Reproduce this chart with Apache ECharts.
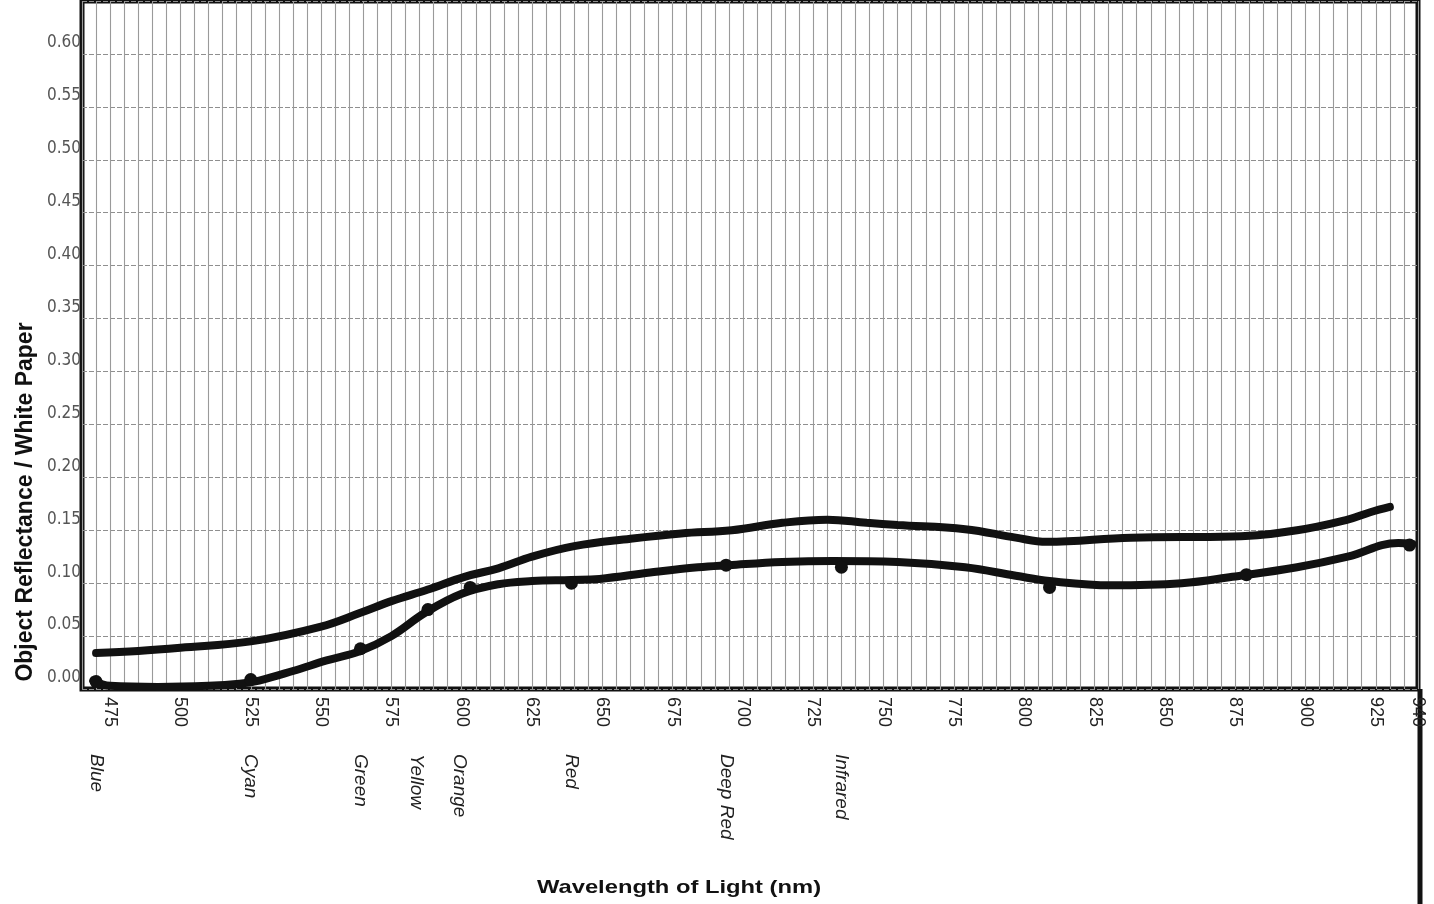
<!DOCTYPE html>
<html>
<head>
<meta charset="utf-8">
<script src="https://cdn.jsdelivr.net/npm/echarts@6/dist/echarts.min.js"></script>
<style>
html,body{margin:0;padding:0;background:#fff;}
#chart{width:1434px;height:904px;}
</style>
</head>
<body>
<div id="chart"></div>
<script>
// ---- data ----
const upperNm  = [470, 485, 500, 525, 550, 564, 575, 588, 601, 613, 625, 640, 660, 678, 696, 714, 730, 744, 755, 779, 797, 808, 838, 874, 897, 915, 923, 930];
const upperVal = [0.034, 0.036, 0.039, 0.045, 0.059, 0.072, 0.083, 0.094, 0.106, 0.114, 0.125, 0.135, 0.142, 0.147, 0.150, 0.157, 0.160, 0.157, 0.155, 0.151, 0.143, 0.139, 0.143, 0.144, 0.150, 0.160, 0.167, 0.172];

const lowerNm  = [469, 475, 492, 510, 521, 528, 540, 552, 564, 575, 587, 600, 613, 625, 639, 649, 667, 684, 695, 714, 732, 755, 779, 797, 809, 831, 856, 874, 897, 915, 933, 938];
const lowerVal = [0.008, 0.003, 0.002, 0.003, 0.005, 0.008, 0.017, 0.027, 0.036, 0.050, 0.072, 0.090, 0.099, 0.102, 0.103, 0.104, 0.110, 0.115, 0.117, 0.120, 0.121, 0.120, 0.115, 0.107, 0.102, 0.098, 0.100, 0.106, 0.115, 0.125, 0.138, 0.137];

const ledNm       = [470, 525, 564, 588, 603, 639, 694, 735, 809, 879, 937];
const ledLowerVal = [0.007, 0.009, 0.038, 0.075, 0.096, 0.100, 0.117, 0.115, 0.096, 0.108, 0.136];

const colorNames = ['Blue', 'Cyan', 'Green', 'Yellow', 'Orange', 'Red', 'Deep Red', 'Infrared'];
const colorNm    = [470, 525, 564, 584, 599, 639, 694, 735];

const xMajorTicks = [475, 500, 525, 550, 575, 600, 625, 650, 675, 700, 725, 750, 775, 800, 825, 850, 875, 900, 925, 940];
const yTickLabels = ['0.00', '0.05', '0.10', '0.15', '0.20', '0.25', '0.30', '0.35', '0.40', '0.45', '0.50', '0.55', '0.60'];

const xTitle = 'Wavelength of Light (nm)';
const yTitle = 'Object Reflectance / White Paper';

// ---- chart ----
const chart = echarts.init(document.getElementById('chart'), null, {renderer: 'canvas'});
const zip = (a, b) => a.map((v, i) => [v, b[i]]);

chart.setOption({
  backgroundColor: '#ffffff',
  animation: false,
  grid: {left: 82, right: 16, top: 1, bottom: 215, show: true, borderColor: '#111', borderWidth: 5, backgroundColor: 'transparent'},
  xAxis: {
    type: 'value', min: 465, max: 940, interval: 5,
    axisLine: {show: false}, axisTick: {show: false},
    splitLine: {show: true, lineStyle: {color: '#9a9a9a', width: 1.1}},
    axisLabel: {
      rotate: -90, margin: 8, fontSize: 18, color: '#222',
      fontFamily: "'Liberation Sans', Arial, sans-serif",
      formatter: v => xMajorTicks.indexOf(v) >= 0 ? String(v) : ''
    }
  },
  yAxis: {
    type: 'value', min: 0, max: 0.65, interval: 0.05,
    axisLine: {show: false}, axisTick: {show: false},
    splitLine: {show: true, lineStyle: {color: '#8f8f8f', width: 1.2, type: [5, 2]}},
    axisLabel: {
      margin: 1, fontSize: 17, color: '#555',
      fontFamily: "'Liberation Sans Narrow', 'DejaVu Sans Condensed', sans-serif",
      verticalAlign: 'bottom', lineHeight: 22,
      formatter: v => {
        const i = Math.round(v / 0.05);
        return i < yTickLabels.length ? yTickLabels[i] : '';
      }
    }
  },
  series: [
    {name: 'upper', type: 'line', smooth: 0.4, showSymbol: false, data: zip(upperNm, upperVal),
     lineStyle: {color: '#111', width: 8, cap: 'round'}, z: 3},
    {name: 'lower', type: 'line', smooth: 0.4, showSymbol: false, data: zip(lowerNm, lowerVal),
     lineStyle: {color: '#111', width: 8, cap: 'round'}, z: 3},
    {name: 'lowerPoints', type: 'scatter', symbol: 'circle', symbolSize: 13, data: zip(ledNm, ledLowerVal),
     itemStyle: {color: '#111', opacity: 1}, z: 4}
  ]
});

// text annotations placed through the axis scale
const gfx = [];
colorNames.forEach((name, i) => {
  const p = chart.convertToPixel({gridIndex: 0}, [colorNm[i], 0]);
  gfx.push({type: 'text', x: p[0], y: 754, rotation: -Math.PI / 2,
    style: {text: name, fontSize: 19, fontStyle: 'italic', fill: '#222',
            fontFamily: "'Liberation Sans', Arial, sans-serif", align: 'left', verticalAlign: 'middle'}});
});
const pBottomRight = chart.convertToPixel({gridIndex: 0}, [940, 0]);
gfx.push({type: 'line', shape: {x1: pBottomRight[0] + 2, y1: pBottomRight[1], x2: pBottomRight[0] + 2, y2: 904},
  style: {stroke: '#111', lineWidth: 5}});
gfx.push({type: 'text', x: 679, y: 888, scaleX: 1.25,
  style: {text: xTitle, fontSize: 19, fontWeight: 'bold', fill: '#111',
          fontFamily: "'Liberation Sans', Arial, sans-serif", align: 'center', verticalAlign: 'middle'}});
gfx.push({type: 'text', x: 26, y: 502, rotation: Math.PI / 2,
  style: {text: yTitle, fontSize: 23, fontWeight: 'bold', fill: '#111',
          fontFamily: "'Liberation Sans', Arial, sans-serif", align: 'center', verticalAlign: 'middle'}});
chart.setOption({graphic: gfx});
</script>
</body>
</html>
